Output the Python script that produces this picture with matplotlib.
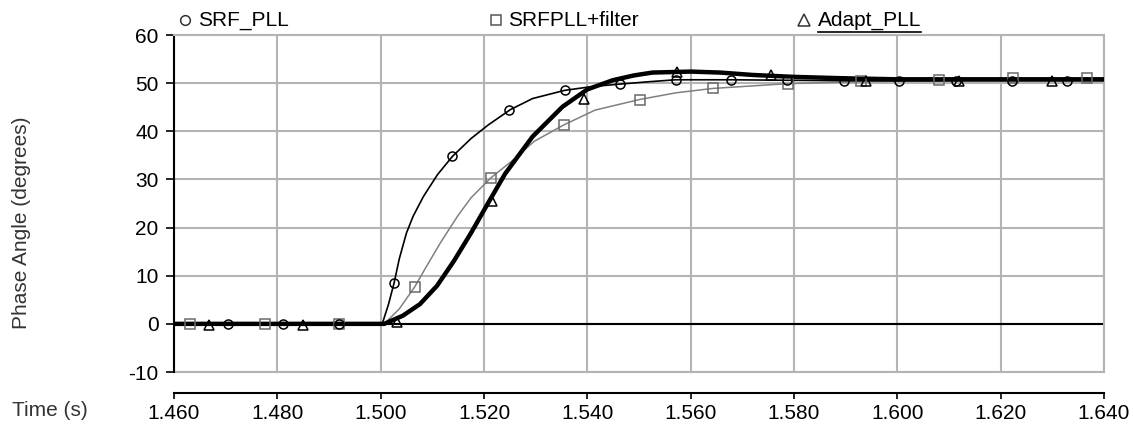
import matplotlib
matplotlib.use("Agg")
import matplotlib.pyplot as plt
from matplotlib.lines import Line2D

plt.rcParams['font.family'] = ['Liberation Sans', 'DejaVu Sans']
plt.rcParams['font.size'] = 15
plt.rcParams['axes.unicode_minus'] = False

# --- data ---
# SRF_PLL (thin black, circles)
t_srf = [1.460, 1.5003, 1.5015, 1.5026, 1.5036, 1.5050, 1.5063, 1.5083, 1.5110, 1.5139,
         1.5175, 1.5208, 1.5251, 1.5294, 1.5356, 1.5410, 1.5463, 1.5520, 1.5571, 1.5679,
         1.5787, 1.5900, 1.640]
v_srf = [0, 0, 4.0, 8.5, 13.5, 18.9, 22.4, 26.5, 31.0, 34.8,
         38.5, 41.3, 44.5, 46.8, 48.5, 49.3, 49.8, 50.3, 50.7, 50.7,
         50.6, 50.5, 50.5]
mk_srf_t = [1.4704, 1.4811, 1.4919, 1.5026, 1.5139, 1.5249, 1.5356, 1.5463, 1.5571, 1.5679,
            1.5787, 1.5896, 1.6004, 1.6113, 1.6221, 1.6329]
mk_srf_v = [0, 0, 0, 8.5, 34.8, 44.4, 48.5, 49.8, 50.7, 50.7,
            50.6, 50.5, 50.5, 50.5, 50.5, 50.5]

# SRFPLL+filter (thin gray, squares)
t_flt = [1.460, 1.5007, 1.5036, 1.5066, 1.5089, 1.5116, 1.5149, 1.5175, 1.5213, 1.5257,
         1.5297, 1.5354, 1.5415, 1.5501, 1.5572, 1.5643, 1.5788, 1.5930, 1.6080, 1.6223,
         1.640]
v_flt = [0, 0, 3.1, 7.7, 12.0, 16.9, 22.4, 26.2, 30.3, 34.1,
         37.9, 41.3, 44.4, 46.6, 48.0, 48.9, 49.9, 50.3, 50.5, 50.8,
         50.8]
mk_flt_t = [1.4630, 1.4776, 1.4920, 1.5066, 1.5213, 1.5354, 1.5501, 1.5643, 1.5788, 1.5930,
            1.6080, 1.6223, 1.6367]
mk_flt_v = [0, 0, 0, 7.7, 30.3, 41.3, 46.6, 48.9, 49.9, 50.4,
            50.6, 51.1, 51.1]

# Adapt_PLL (bold black, triangles)
t_ad = [1.460, 1.5007, 1.5043, 1.5076, 1.5109, 1.5142, 1.5175, 1.5208, 1.5241, 1.5274,
        1.5294, 1.5352, 1.5400, 1.5449, 1.5490, 1.5526, 1.5600, 1.5657, 1.5720, 1.5800,
        1.5900, 1.6000, 1.640]
v_ad = [0, 0, 1.7, 4.1, 7.9, 13.1, 18.9, 25.1, 31.2, 36.0,
        38.9, 45.1, 48.7, 50.6, 51.6, 52.2, 52.4, 52.2, 51.7, 51.3,
        51.0, 50.8, 50.8]
mk_ad_t = [1.4668, 1.4850, 1.5031, 1.5216, 1.5393, 1.5574, 1.5756, 1.5940, 1.6120, 1.6300]
mk_ad_v = [-0.3, -0.3, 0.3, 25.5, 46.8, 52.4, 51.6, 50.4, 50.4, 50.4]

x_ticks = [1.46, 1.48, 1.50, 1.52, 1.54, 1.56, 1.58, 1.60, 1.62, 1.64]
y_ticks = [-10, 0, 10, 20, 30, 40, 50, 60]

W, H = 1133, 424
fig = plt.figure(figsize=(W / 100, H / 100), dpi=100)
ax = fig.add_axes([174 / W, 1 - 372 / H, 930 / W, 337 / H])

grid_c = '#b4b4b4'
ax.set_xlim(1.46, 1.64)
ax.set_ylim(-10, 60)
ax.set_xticks(x_ticks)
ax.set_yticks(y_ticks)
ax.set_xticklabels([f"{x:.3f}" for x in x_ticks])
ax.grid(True, color=grid_c, linewidth=1.5)
ax.set_axisbelow(True)
ax.axhline(0, color='black', linewidth=1.5, zorder=2)
ax.axhline(-10, color=grid_c, linewidth=1.5, clip_on=False)

for s in ['top', 'right']:
    ax.spines[s].set_color(grid_c)
    ax.spines[s].set_linewidth(1.5)
ax.spines['left'].set_linewidth(1.5)
ax.spines['bottom'].set_linewidth(1.5)
ax.spines['bottom'].set_position(('outward', 15))
ax.tick_params(axis='y', direction='out', length=6, width=1.2, pad=5)
ax.tick_params(axis='x', direction='out', length=4, width=1.2, pad=4)

# curves
ax.plot(t_flt, v_flt, color='#808080', linewidth=1.1, zorder=3)
ax.plot(t_srf, v_srf, color='black', linewidth=1.2, zorder=4)
ax.plot(t_ad, v_ad, color='black', linewidth=3.2, zorder=5)

ax.plot(mk_flt_t, mk_flt_v, linestyle='none', marker='s', markersize=7,
        markerfacecolor='none', markeredgecolor='#6a6a6a', markeredgewidth=1.1, zorder=6)
ax.plot(mk_srf_t, mk_srf_v, linestyle='none', marker='o', markersize=6.5,
        markerfacecolor='none', markeredgecolor='black', markeredgewidth=1.1, zorder=6)
ax.plot(mk_ad_t, mk_ad_v, linestyle='none', marker='^', markersize=7.5,
        markerfacecolor='none', markeredgecolor='black', markeredgewidth=1.1, zorder=6)

# labels
fig.text(22 / W, 1 - 223 / H, 'Phase Angle (degrees)', rotation=90,
         ha='center', va='center', color='#333333')
fig.text(12 / W, 1 - 410 / H, 'Time (s)', ha='left', va='center', color='#333333')

# legend across the top
ly = 1 - 20 / H
fig.add_artist(Line2D([185 / W], [ly], marker='o', markersize=7, markerfacecolor='none',
                      markeredgecolor='#333333', markeredgewidth=1.1))
fig.text(198 / W, ly, 'SRF_PLL', ha='left', va='center')
fig.add_artist(Line2D([496 / W], [ly], marker='s', markersize=7, markerfacecolor='none',
                      markeredgecolor='#555555', markeredgewidth=1.1))
fig.text(508 / W, ly, 'SRFPLL+filter', ha='left', va='center')
fig.add_artist(Line2D([804 / W], [ly], marker='^', markersize=8, markerfacecolor='none',
                      markeredgecolor='#333333', markeredgewidth=1.1))
t3 = fig.text(818 / W, ly, 'Adapt_PLL', ha='left', va='center')

fig.canvas.draw()
bb = t3.get_window_extent()
fig.add_artist(Line2D([bb.x0 / W, bb.x1 / W], [(bb.y0 - 2) / H, (bb.y0 - 2) / H],
                      color='black', linewidth=1.2))

fig.savefig('out.png', dpi=100)
